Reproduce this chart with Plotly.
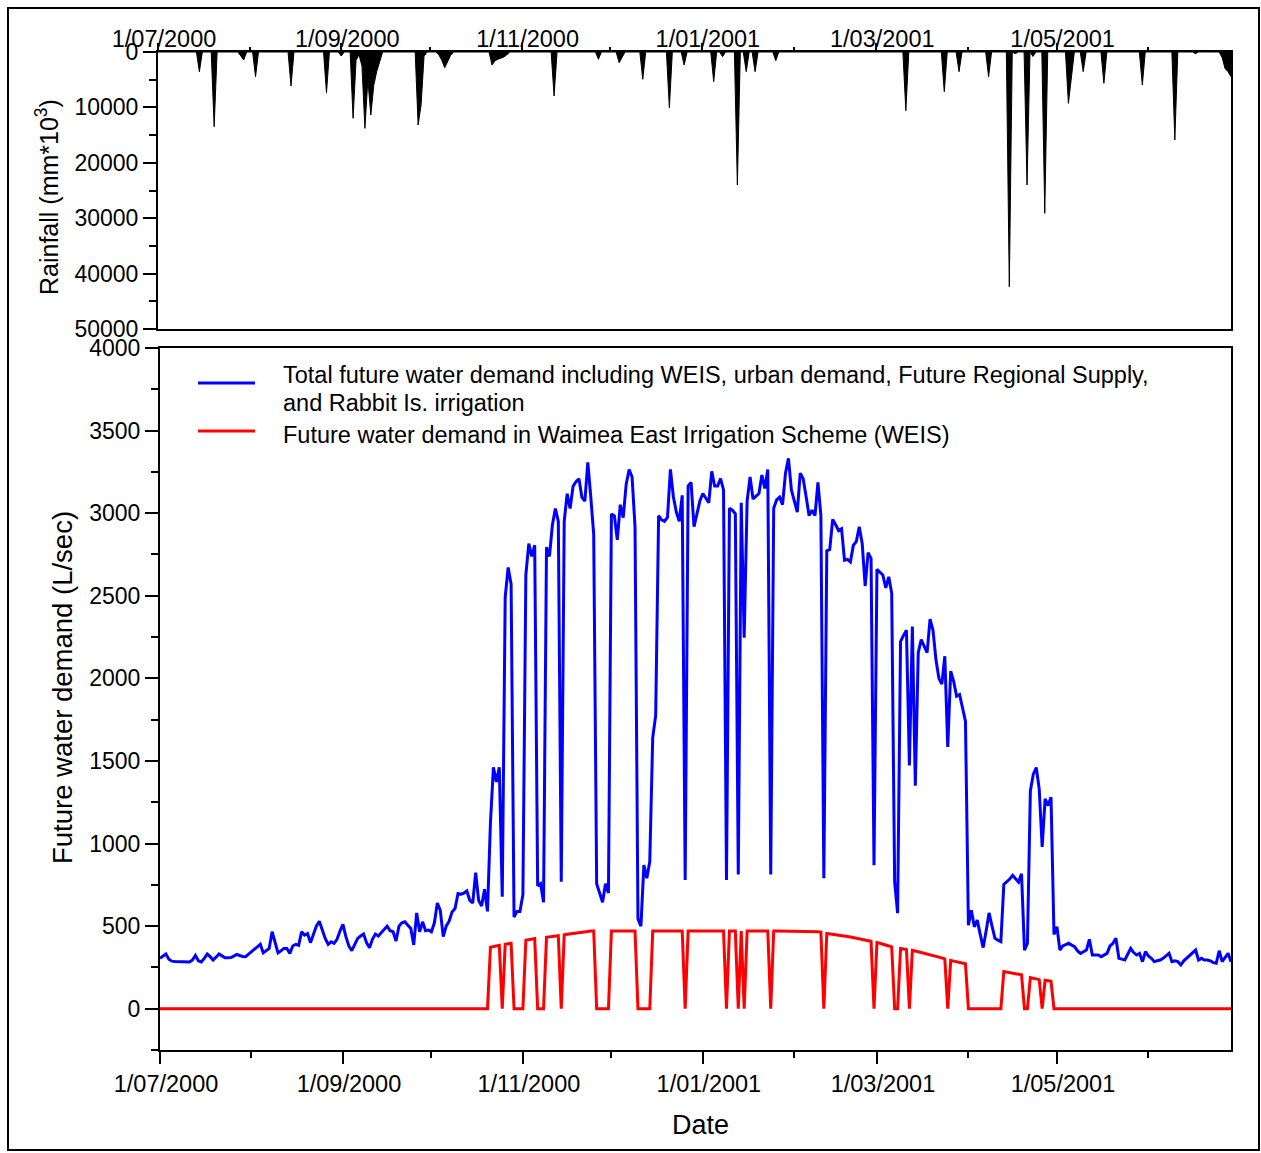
import pandas as pd
import plotly.graph_objects as go

SERIES_START = "2000-07-01"

# Daily total future demand (L/sec), 1 Jul 2000 onwards
total_demand = [
    305, 320, 331, 300, 288, 286, 285, 285, 284, 283,
    283, 295, 323, 290, 283, 305, 331, 315, 295, 312,
    331, 320, 308, 309, 310, 318, 329, 322, 316, 315,
    330, 350, 365, 378, 390, 338, 350, 365, 466, 400,
    338, 350, 365, 365, 335, 380, 390, 384, 466, 445,
    455, 400, 450, 500, 530, 480, 425, 390, 405, 396,
    420, 470, 510, 436, 380, 351, 390, 426, 440, 452,
    400, 369, 420, 452, 440, 460, 480, 500, 472, 466,
    410, 500, 520, 526, 506, 486, 386, 580, 466, 526,
    472, 476, 466, 520, 640, 596, 436, 500, 530, 586,
    606, 697, 693, 700, 713, 656, 640, 824, 656, 622,
    723, 589, 1126, 1462, 1373, 1462, 678, 2492, 2671, 2570,
    555, 589, 589, 690, 2626, 2816, 2738, 2806, 745, 757,
    645, 2794, 2738, 2928, 3028, 2950, 768, 2950, 3118, 3028,
    3163, 3190, 3208, 3096, 3073, 3308, 3100, 2872, 757, 700,
    645, 757, 701, 2995, 2984, 2839, 3051, 2973, 3174, 3264,
    3219, 2917, 544, 499, 869, 790, 891, 1641, 1776, 2985,
    2960, 2951, 2974, 3265, 3100, 3007, 2951, 3108, 779, 3164,
    3186, 2918, 3000, 3075, 3119, 3090, 3063, 3253, 3164, 3164,
    3209, 3141, 779, 3030, 3018, 2996, 813, 3063, 2246, 3074,
    3220, 3086, 3100, 3119, 3231, 3150, 3265, 813, 3030, 3080,
    3097, 3052, 3242, 3332, 3141, 3080, 3007, 3242, 3209, 3100,
    2985, 3018, 2985, 3186, 2985, 790, 2772, 2780, 2962, 2930,
    2895, 2906, 2716, 2720, 2705, 2806, 2828, 2918, 2817, 2559,
    2761, 2727, 869, 2660, 2640, 2626, 2548, 2615, 2515, 768,
    578, 2223, 2260, 2291, 1473, 2313, 1350, 2156, 2235, 2190,
    2156, 2358, 2291, 2112, 2000, 1966, 2134, 1585, 2044, 1982,
    1892, 1902, 1821, 1741, 506, 596, 496, 536, 450, 370,
    470, 580, 500, 426, 415, 406, 753, 767, 785, 807,
    790, 767, 817, 355, 396, 1319, 1420, 1460, 1330, 980,
    1270, 1230, 1280, 450, 496, 355, 380, 386, 396, 385,
    375, 350, 335, 345, 355, 420, 325, 325, 325, 315,
    325, 335, 380, 396, 426, 305, 300, 295, 330, 365,
    340, 325, 335, 285, 345, 320, 305, 285, 290, 295,
    305, 320, 335, 285, 290, 285, 265, 290, 305, 325,
    340, 355, 295, 305, 295, 295, 290, 279, 275, 351,
    285, 310, 335, 285,
]

# Daily WEIS demand (L/sec), same days
weis_demand = [
    0, 0, 0, 0, 0, 0, 0, 0, 0, 0,
    0, 0, 0, 0, 0, 0, 0, 0, 0, 0,
    0, 0, 0, 0, 0, 0, 0, 0, 0, 0,
    0, 0, 0, 0, 0, 0, 0, 0, 0, 0,
    0, 0, 0, 0, 0, 0, 0, 0, 0, 0,
    0, 0, 0, 0, 0, 0, 0, 0, 0, 0,
    0, 0, 0, 0, 0, 0, 0, 0, 0, 0,
    0, 0, 0, 0, 0, 0, 0, 0, 0, 0,
    0, 0, 0, 0, 0, 0, 0, 0, 0, 0,
    0, 0, 0, 0, 0, 0, 0, 0, 0, 0,
    0, 0, 0, 0, 0, 0, 0, 0, 0, 0,
    0, 0, 372, 376, 380, 384, 0, 390, 393, 396,
    0, 0, 0, 0, 415, 419, 422, 425, 0, 0,
    0, 432, 435, 438, 440, 442, 0, 448, 451, 454,
    457, 460, 462, 464, 466, 468, 470, 470, 0, 0,
    0, 0, 0, 470, 470, 470, 470, 470, 470, 470,
    470, 470, 0, 0, 0, 0, 0, 470, 470, 470,
    470, 470, 470, 470, 470, 470, 470, 470, 0, 470,
    470, 470, 470, 470, 470, 470, 470, 470, 470, 470,
    470, 470, 0, 470, 470, 470, 0, 470, 0, 470,
    470, 470, 470, 470, 470, 470, 470, 0, 470, 470,
    470, 470, 470, 470, 470, 470, 470, 470, 470, 470,
    470, 470, 468, 466, 464, 0, 455, 453, 450, 448,
    445, 442, 440, 437, 434, 430, 427, 423, 420, 416,
    412, 408, 0, 400, 396, 392, 386, 380, 374, 0,
    0, 365, 362, 359, 0, 353, 349, 345, 341, 337,
    332, 327, 322, 317, 312, 307, 302, 0, 292, 288,
    284, 280, 276, 272, 0, 0, 0, 0, 0, 0,
    0, 0, 0, 0, 0, 0, 225, 222, 219, 215,
    212, 208, 205, 0, 0, 188, 184, 180, 176, 0,
    172, 169, 166, 0, 0, 0, 0, 0, 0, 0,
    0, 0, 0, 0, 0, 0, 0, 0, 0, 0,
    0, 0, 0, 0, 0, 0, 0, 0, 0, 0,
    0, 0, 0, 0, 0, 0, 0, 0, 0, 0,
    0, 0, 0, 0, 0, 0, 0, 0, 0, 0,
    0, 0, 0, 0, 0, 0, 0, 0, 0, 0,
    0, 0, 0, 0,
]

# Rain days (offset in days from 1 Jul 2000) and rainfall (mm*10^3)
rain_day = [
    14, 19, 28, 29, 33, 45, 57, 62, 66, 67, 68, 69, 70, 71, 72, 73, 74, 75,
    88, 89, 90, 95, 96, 97, 98, 99, 113, 114, 115, 116, 117, 118, 134,
    149, 156, 157, 164, 173, 178, 188, 191, 196, 199, 202, 209, 253, 266,
    271, 281, 288, 290, 294, 296, 300, 308, 309, 313, 320, 333, 344, 351,
    360, 361, 362, 363,
]
rain_value = [
    3560, 13480, 700, 1440, 4450, 6140, 7340, 720, 11970, 1500, 500, 2500,
    13780, 5000, 11370, 6000, 3500, 1500,
    13180, 9570, 800, 500, 1500, 2830, 1800, 600, 2350, 1600, 1300, 1100,
    900, 500, 7940,
    1320, 1930, 900, 4930, 10050, 2350, 5350, 840, 24000, 3550, 3550, 1560,
    10590, 7160,
    3550, 4450, 42360, 300, 24000, 800, 29120, 9270, 4000, 3550, 5650, 5960,
    15880, 300,
    1000, 3000, 3550, 4450,
]

dates = pd.date_range(SERIES_START, periods=len(total_demand), freq="D")
rainfall = [0] * len(dates)
for day, value in zip(rain_day, rain_value):
    rainfall[day] = value

W, H = 1261, 1153


def fx(px):
    return px / W


def fy(py):
    return 1 - py / H


FONT = 'Arial, "Liberation Sans", sans-serif'
BLUE = "#0000FF"
RED = "#FF0000"

fig = go.Figure()

fig.add_trace(go.Scatter(
    x=dates, y=rainfall, xaxis="x2", yaxis="y2", mode="lines",
    line=dict(color="black", width=1), fill="tozeroy", fillcolor="black",
    name="Rainfall", showlegend=False,
))
fig.add_trace(go.Scatter(
    x=dates, y=total_demand, mode="lines", line=dict(color=BLUE, width=3),
    name="Total future water demand", showlegend=False,
))
fig.add_trace(go.Scatter(
    x=dates, y=weis_demand, mode="lines", line=dict(color=RED, width=3),
    name="Future water demand in WEIS", showlegend=False,
))

x_range = ["2000-07-01", "2001-06-29"]
common_x = dict(
    range=x_range, type="date", tick0="2000-07-01", dtick="M2",
    tickformat="%-d/%m/%Y", showgrid=False, zeroline=False,
    showline=True, linewidth=2, linecolor="black", mirror=True,
    ticks="outside", tickwidth=2, tickcolor="black", automargin=False,
    tickfont=dict(family=FONT, size=23.5, color="black"),
    ticklabelshift=6,
)
common_y = dict(
    showgrid=False, zeroline=False, showline=True, linewidth=2,
    linecolor="black", mirror=True, ticks="outside", tickwidth=2,
    tickcolor="black", ticklen=13, automargin=False, tickformat="d",
    tickfont=dict(family=FONT, size=23, color="black"),
)

fig.update_layout(
    width=W, height=H, margin=dict(l=0, r=0, t=0, b=0, autoexpand=False),
    paper_bgcolor="white", plot_bgcolor="white", showlegend=False,
    font=dict(family=FONT, size=23, color="black"),
    xaxis=dict(
        common_x, domain=[fx(160), fx(1231)], anchor="y", ticklen=12,
        ticklabelstandoff=0,
        minor=dict(dtick="M1", tick0="2000-07-01", ticks="outside",
                   ticklen=6, tickwidth=2, tickcolor="black"),
    ),
    yaxis=dict(
        common_y, domain=[fy(1050), fy(348)], anchor="x", range=[-250, 4000],
        tick0=0, dtick=500,
        minor=dict(dtick=250, tick0=0, ticks="outside", ticklen=7,
                   tickwidth=2, tickcolor="black"),
    ),
    xaxis2=dict(
        common_x, domain=[fx(158), fx(1231)], anchor="y2", side="top",
        ticklen=7, ticklabelstandoff=-13,
        minor=dict(dtick="M1", tick0="2000-07-01", ticks="outside",
                   ticklen=3, tickwidth=2, tickcolor="black"),
    ),
    yaxis2=dict(
        common_y, domain=[fy(329), fy(52)], anchor="x2", range=[50000, 0],
        tick0=0, dtick=10000,
        minor=dict(dtick=5000, tick0=0, ticks="outside", ticklen=7,
                   tickwidth=2, tickcolor="black"),
    ),
)

shapes = [
    # frame around the whole figure
    dict(type="rect", xref="paper", yref="paper",
         x0=fx(8), x1=fx(1259), y0=fy(1150), y1=fy(8),
         line=dict(color="black", width=2)),
    # legend keys
    dict(type="line", xref="paper", yref="paper",
         x0=fx(198), x1=fx(255), y0=fy(383), y1=fy(383),
         line=dict(color=BLUE, width=3)),
    dict(type="line", xref="paper", yref="paper",
         x0=fx(198), x1=fx(255), y0=fy(431), y1=fy(431),
         line=dict(color=RED, width=3)),
]
fig.update_layout(shapes=shapes)

legend_lines = [
    ("Total future water demand including WEIS, urban demand, Future Regional Supply,", 375),
    ("and Rabbit Is. irrigation", 403),
    ("Future water demand in Waimea East Irrigation Scheme (WEIS)", 435),
]
annotations = []
for text, ypx in legend_lines:
    annotations.append(dict(
        text=text, xref="paper", yref="paper", x=fx(281), y=fy(ypx),
        xanchor="left", yanchor="middle", showarrow=False,
        font=dict(family=FONT, size=23.5, color="black"),
    ))

annotations += [
    dict(text="Rainfall (mm*10<sup>3</sup>)", xref="paper", yref="paper",
         x=fx(47), y=fy(197), xanchor="center", yanchor="middle",
         textangle=-90, showarrow=False,
         font=dict(family=FONT, size=25, color="black")),
    dict(text="Future water demand (L/sec)", xref="paper", yref="paper",
         x=fx(62), y=fy(688), xanchor="center", yanchor="middle",
         textangle=-90, showarrow=False,
         font=dict(family=FONT, size=27.5, color="black")),
    dict(text="Date", xref="paper", yref="paper",
         x=fx(700), y=fy(1125), xanchor="center", yanchor="middle",
         showarrow=False, font=dict(family=FONT, size=27, color="black")),
]
fig.update_layout(annotations=annotations)

fig.write_html("out.html")
